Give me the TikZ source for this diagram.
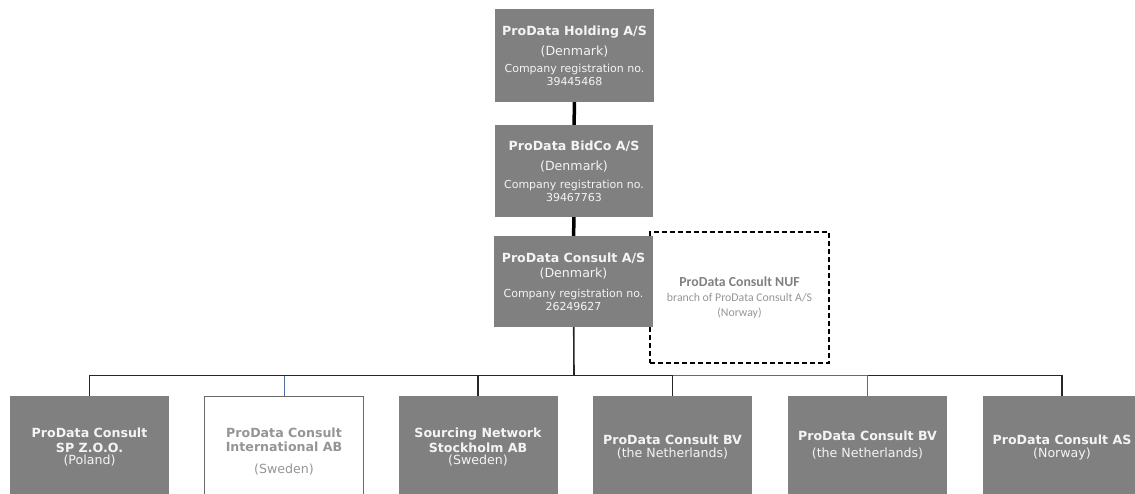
\documentclass[tikz,border=0pt]{standalone}
\usepackage{fontspec}
\setmainfont{DejaVu Sans}
\newfontfamily\branchfont{Carlito}
\definecolor{cobox}{HTML}{808080}
\definecolor{cotext}{HTML}{F4F4F4}
\definecolor{colight}{HTML}{959595}
\definecolor{coframe}{HTML}{6A6A6A}
\definecolor{coline}{HTML}{262626}
\definecolor{coblue}{HTML}{4A6FA5}

\tikzset{
  company/.style={fill=cobox, text=cotext, minimum width=159pt, minimum height=93pt,
    align=center, inner sep=0pt, font=\fontsize{11}{13}\selectfont},
  subsidiary/.style={company, minimum height=103pt},
  outlined/.style={subsidiary, fill=white, draw=coframe, text=colight, line width=0.8pt},
  branchbox/.style={draw=black, dash pattern=on 5pt off 3pt, line width=1.6pt,
    minimum width=179pt, minimum height=131pt, align=center, text=colight,
    inner sep=0pt, font=\branchfont\fontsize{11.8}{15}\selectfont},
  owner/.style={line width=3.5pt, black},
  bus/.style={line width=1.6pt, coline},
  thinbus/.style={line width=0.9pt, coblue}
}
\newcommand{\coname}[1]{{\bfseries\fontsize{12.6}{14}\selectfont #1}}
\newcommand{\coland}[1]{{\fontsize{12.6}{14}\selectfont #1}}

\begin{document}
\begin{tikzpicture}[x=1pt,y=-1pt]
            \useasboundingbox (0,0) rectangle (1135,494);

            % Branch (behind the parent company)
            \node[branchbox] (nuf) at (739.5,297.5)
                {{\bfseries\color{cobox}\fontsize{13.8}{16}\selectfont ProData Consult NUF}\\branch of ProData Consult A/S\\(Norway)};

            % Owners
            \node[company] (holding) at (574.5,55.5)
                {\coname{ProData Holding A/S}\\[7pt]\coland{(Denmark)}\\[4pt]Company registration no.\\39445468};
            \node[company, minimum width=158pt, minimum height=92pt] (bidco) at (574,171)
                {\coname{ProData BidCo A/S}\\[7pt]\coland{(Denmark)}\\[5pt]Company registration no.\\39467763};
            \node[company, minimum height=91pt] (consult) at (573.5,281.5)
                {\coname{ProData Consult A/S}\\[2pt]\coland{(Denmark)}\\[7pt]Company registration no.\\26249627};

            % Subsidiaries (cut off by the lower edge)
            \node[subsidiary] (poland) at (89.5,447.5)
                {\coname{ProData Consult}\\[2pt]\coname{SP Z.O.O.}\\[-1pt]\coland{(Poland)}};
            \node[outlined, minimum height=111pt] (intl) at (284,451.5)
                {\coname{ProData Consult}\\[1pt]\coname{International AB}\\[9pt]\coland{(Sweden)}};
            \node[subsidiary] (sourcing) at (478,447.5)
                {\coname{Sourcing Network}\\[2pt]\coname{Stockholm AB}\\[-1pt]\coland{(Sweden)}};
            \node[subsidiary] (nlone) at (672.5,447.5)
                {\coname{ProData Consult BV}\\[0pt]\coland{(the Netherlands)}};
            \node[subsidiary, minimum height=98pt] (nltwo) at (867.5,445)
                {\coname{ProData Consult BV}\\[4pt]\coland{(the Netherlands)}};
            \node[subsidiary] (norway) at (1062,447.5)
                {\coname{ProData Consult AS}\\[0pt]\coland{(Norway)}};

            % Ownership lines
            \draw[owner] (holding) -- (bidco);
            \draw[owner] (bidco) -- (consult);
            \coordinate (bus) at (574,375.5);
            \draw[bus] (consult) -- (bus);
            \draw[bus] (poland.north) |- (bus) -| (norway.north);
            \foreach \co in {sourcing,nlone} {
                \draw[bus] (\co.north) -- (\co.north |- bus);
            }
            \draw[thinbus, line width=1.6pt] (nlone.north |- bus) -- (nltwo.north |- bus);
            \foreach \co in {intl,nltwo} {
                \draw[thinbus] (\co.north) -- (\co.north |- bus);
            }
        \end{tikzpicture}
\end{document}
